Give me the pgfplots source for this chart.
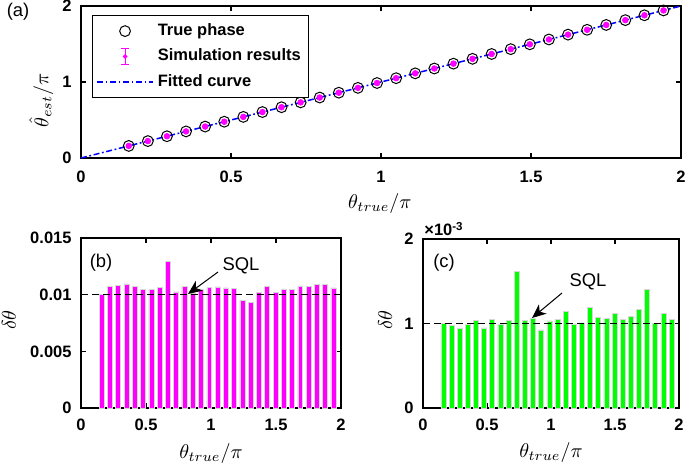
\documentclass[border=0pt]{standalone}
\usepackage{pgfplots}
\pgfplotsset{compat=1.18}
\usepackage{pgfplotstable}
\usepackage{fontspec}
\setmainfont{Liberation Sans}
\usetikzlibrary{arrows.meta}

\definecolor{mag}{RGB}{255,0,255}
\definecolor{grn}{RGB}{0,255,0}
\definecolor{blu}{RGB}{0,0,255}
\definecolor{edge}{RGB}{215,215,215}

% theta = 0.5:0.2:6.1 rad, given as theta/pi
\pgfplotstableread{
x       est     db       dc
0.15915 0.15915 0.01000  1.000
0.22282 0.22282 0.01074  0.975
0.28648 0.28648 0.01083  0.945
0.35014 0.35014 0.01095  0.988
0.41380 0.41380 0.01074  1.035
0.47746 0.47746 0.01044  0.948
0.54113 0.54113 0.01044  1.045
0.60479 0.60479 0.01062  0.988
0.66845 0.66845 0.01296  1.035
0.73211 0.73211 0.01024  1.620
0.79577 0.79577 0.01074  1.035
0.85944 0.85944 0.01010  1.065
0.92310 0.92310 0.01050  0.925
0.98676 0.98676 0.01062  1.030
1.05042 1.05042 0.01068  1.045
1.11408 1.11408 0.01060  1.147
1.17775 1.17775 0.01053  0.995
1.24141 1.24141 0.00950  1.008
1.30507 1.30507 0.00930  1.192
1.36873 1.36873 0.01020  1.075
1.43239 1.43239 0.01070  1.065
1.49606 1.49606 0.01020  1.123
1.55972 1.55972 0.01050  1.048
1.62338 1.62338 0.01050  1.080
1.68704 1.68704 0.01070  1.163
1.75070 1.75070 0.01070  1.408
1.81437 1.81437 0.01090  1.000
1.87803 1.87803 0.01090  1.121
1.94169 1.94169 0.01060  1.052
}\data

\tikzset{fitstyle/.style={draw=blu, line width=0.75pt, dash pattern=on 3pt off 1.3pt on 0.9pt off 1.3pt}}

\pgfplotsset{
  panel/.style={
    scale only axis,
    anchor=south west,
    axis line style={line width=0.8pt},
    tick style={black, line width=0.6pt},
    tick align=inside,
    major tick length=2.5pt,
    xmin=0, xmax=2,
    xtick={0,0.5,1,1.5,2},
    xticklabels={0,0.5,1,1.5,2},
    scaled ticks=false,
    /pgf/number format/assume math mode=true,
    ticklabel style={font=\fontsize{8.25}{9}\selectfont\bfseries},
    yticklabel style={xshift=-1.2pt},
    label style={font=\normalsize},
  },
}

\begin{document}
\begin{tikzpicture}
\useasboundingbox (0,0) rectangle (342.5pt,-231.5pt);

% (a)
\begin{axis}[panel,
    at={(40.5pt,-79pt)}, width=300pt, height=76pt,
    ymin=0, ymax=2, ytick={0,1,2}, yticklabels={0,1,2},
    xticklabel style={yshift=-3pt},
    xlabel={$\theta_{true}/\pi$},
    ylabel={$\hat{\theta}_{est}/\pi$},
    xlabel style={at={(axis description cs:0.498,-0.296)}, anchor=center},
    ylabel style={at={(axis description cs:-0.066,0.38)}, anchor=center},
    legend style={at={(axis description cs:0.018,0.94)}, anchor=north west,
        draw=black, line width=0.5pt,
        font=\fontsize{8.25}{9}\selectfont\bfseries,
        row sep=1.2pt, inner xsep=2pt, inner ysep=2pt},
    legend cell align=left,
  ]
  \addplot[only marks, mark=o, mark size=2.7pt, black, line width=0.5pt,
    legend image code/.code={\draw[black, line width=0.5pt] (14pt,0pt) circle (2.7pt);}]
    table[x=x, y=x] {\data};
  \addlegendentry{True phase}
  \addplot[only marks, mark=*, mark size=1.4pt, mag,
    legend image code/.code={
      \draw[mag, line width=0.5pt] (14pt,-4pt) -- (14pt,4pt);
      \draw[mag, line width=0.5pt] (12pt,-4pt) -- (16pt,-4pt);
      \draw[mag, line width=0.5pt] (12pt,4pt) -- (16pt,4pt);
      \fill[mag] (14pt,0pt) circle (0.9pt);}]
    table[x=x, y=est] {\data};
  \addlegendentry{Simulation results}
  \addplot[fitstyle,
    legend image code/.code={\draw[fitstyle] (0pt,0pt) -- (28pt,0pt);}]
    coordinates {(0,0) (2,2)};
  \addlegendentry{Fitted curve}
\end{axis}

% (b)
\begin{axis}[panel,
    at={(40.5pt,-204pt)}, width=130pt, height=85pt,
    ymin=0, ymax=0.015, ytick={0,0.005,0.01,0.015},
    yticklabels={0,0.005,0.01,0.015},
    xticklabel style={yshift=-2pt},
    xlabel={$\theta_{true}/\pi$},
    ylabel={$\delta\theta$},
    xlabel style={at={(axis description cs:0.5,-0.265)}, anchor=center},
    ylabel style={at={(axis description cs:-0.277,0.518)}, anchor=center},
  ]
  \addplot[ybar, bar width=0.038, fill=mag, draw=edge, line width=0.3pt]
    table[x=x, y=db] {\data};
  \addplot[black, line width=0.7pt, dash pattern=on 3.5pt off 2pt]
    coordinates {(0,0.01) (2,0.01)};
\end{axis}

% (c)
\begin{axis}[panel,
    at={(211.5pt,-204pt)}, width=128pt, height=84.5pt,
    ymin=0, ymax=2, ytick={0,1,2}, yticklabels={0,1,2},
    xticklabel style={yshift=-2pt},
    xlabel={$\theta_{true}/\pi$},
    ylabel={$\delta\theta$},
    xlabel style={at={(axis description cs:0.5,-0.266)}, anchor=center},
    ylabel style={at={(axis description cs:-0.148,0.52)}, anchor=center},
  ]
  \addplot[ybar, bar width=0.039, fill=grn, draw=edge, line width=0.3pt]
    table[x=x, y=dc] {\data};
  \addplot[black, line width=0.7pt, dash pattern=on 3.5pt off 2pt]
    coordinates {(0,1) (2,1)};
\end{axis}

% annotations
\node[font=\fontsize{9.2}{10}\selectfont] at (9pt,-6pt) {(a)};
\node[font=\fontsize{9.2}{10}\selectfont] at (50.5pt,-131.5pt) {(b)};
\node[font=\fontsize{9.2}{10}\selectfont] at (222pt,-131.5pt) {(c)};
\node[font=\fontsize{9.2}{10}\selectfont] at (120.5pt,-133pt) {SQL};
\node[font=\fontsize{9.2}{10}\selectfont] at (294pt,-141pt) {SQL};
\draw[line width=0.5pt, -{Stealth[length=7pt, width=6pt, inset=2pt]}] (109pt,-136pt) -- (94pt,-147pt);
\draw[line width=0.5pt, -{Stealth[length=7pt, width=6pt, inset=2pt]}] (281pt,-146.5pt) -- (266pt,-159pt);
\node[anchor=west, inner sep=0pt, font=\fontsize{8.25}{9}\selectfont\bfseries] at (212pt,-114.5pt) {×10\textsuperscript{-3}};
\end{tikzpicture}
\end{document}
